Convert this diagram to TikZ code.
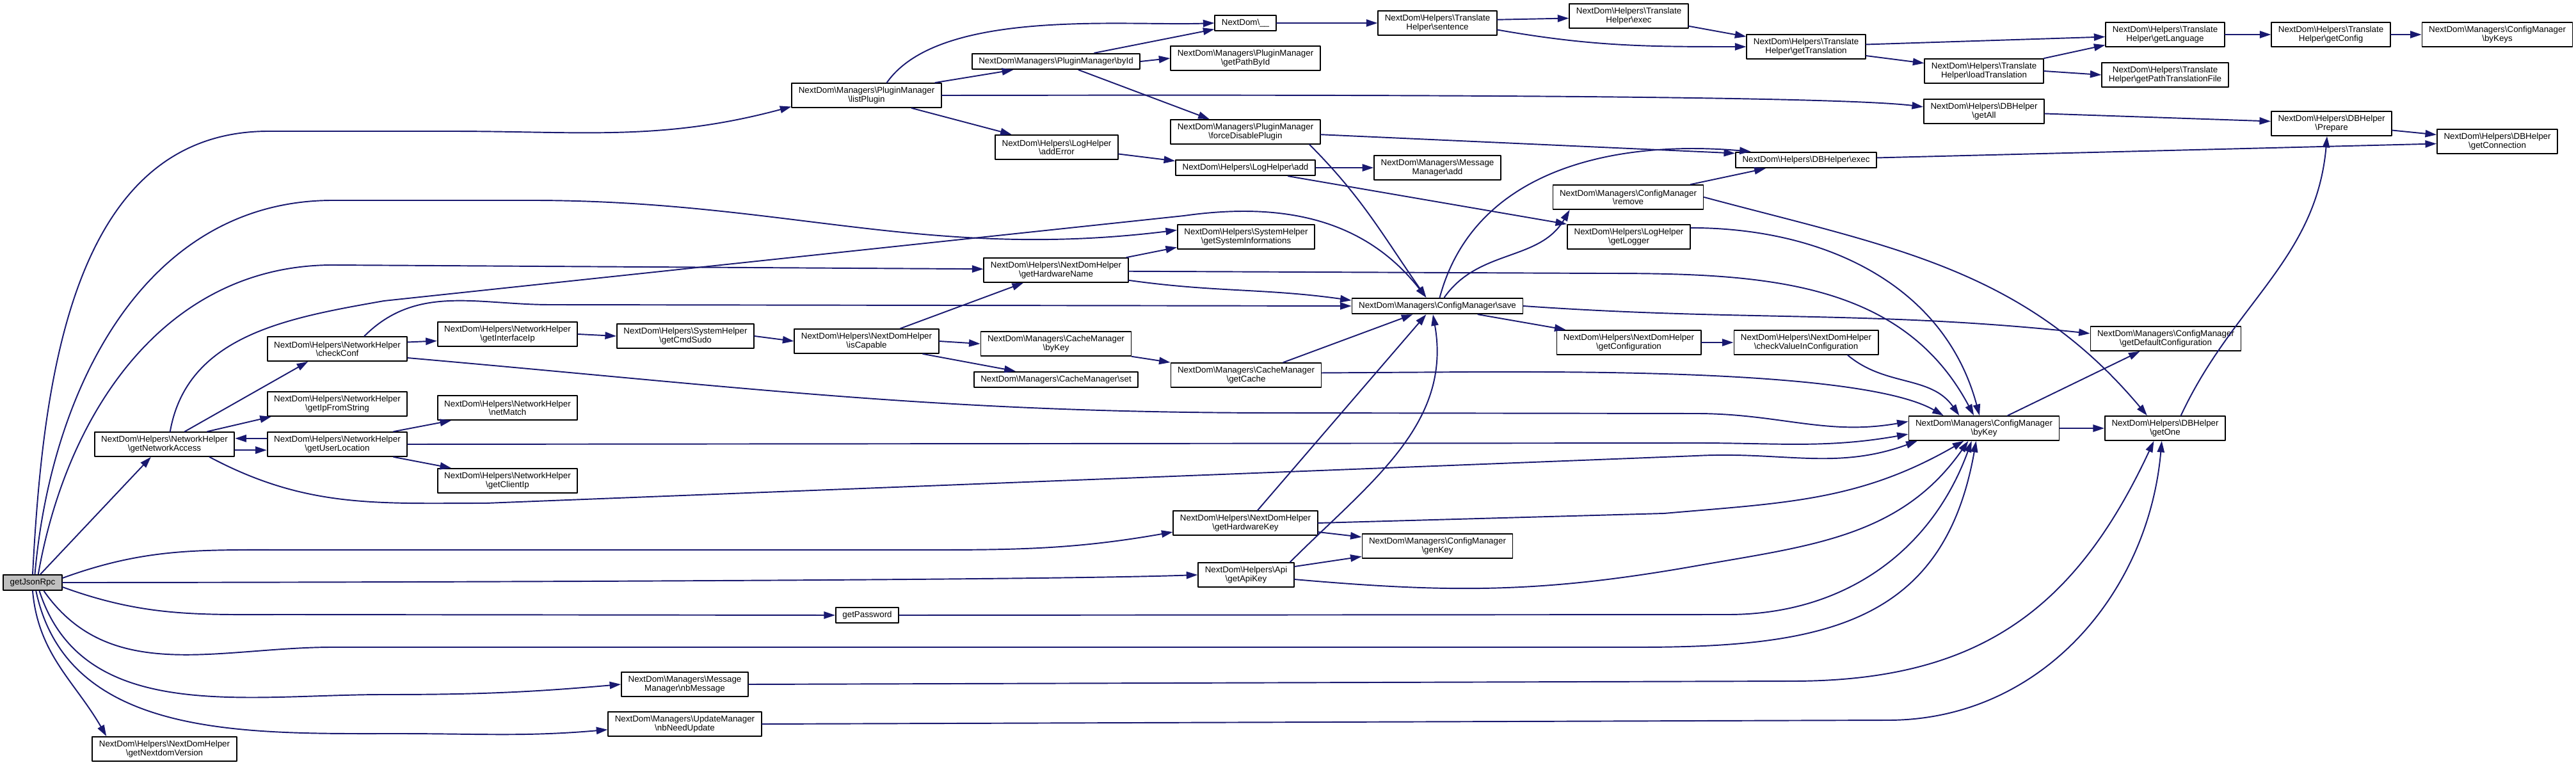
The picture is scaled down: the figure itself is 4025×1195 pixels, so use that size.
\documentclass[tikz,border=0pt]{standalone}
\usepackage{fontspec}
\setmainfont{Liberation Sans}
\usepackage{tikz}
\usetikzlibrary{arrows.meta}
\definecolor{cgedge}{HTML}{191970}
\definecolor{cgroot}{HTML}{BFBFBF}
\newcommand{\bsl}{\textbackslash}

\begin{document}
\begin{tikzpicture}[x=0.01cm,y=-0.01cm,line cap=round,line join=round,
  fn/.style={draw=black,fill=white,line width=0.5pt,inner xsep=3pt,inner ysep=1.7pt,
    minimum height=7pt,align=center,font=\fontsize{3.8pt}{3.75pt}\selectfont},
  fn2/.style={fn,minimum height=10.8pt},
  cg/.style={draw=cgedge,line width=0.55pt,-{Triangle[length=5pt,width=3.2pt]}}]
\path[use as bounding box] (0,0) rectangle (4025,1195);
\fill[white] (0,0) rectangle (4025,1195);

% call graph nodes
\node[fn,fill=cgroot] (root) at (51,910) {getJsonRpc};
\node[fn2] (lp) at (1354,149) {NextDom\bsl Managers\bsl PluginManager\\\bsl listPlugin};
\node[fn] (bid) at (1650,96) {NextDom\bsl Managers\bsl PluginManager\bsl byId};
\node[fn2] (gpb) at (1946,91) {NextDom\bsl Managers\bsl PluginManager\\\bsl getPathById};
\node[fn] (ndu) at (1946,36) {NextDom\bsl\_\_};
\node[fn2] (snt) at (2246,36) {NextDom\bsl Helpers\bsl Translate\\Helper\bsl sentence};
\node[fn2] (tex) at (2545,25) {NextDom\bsl Helpers\bsl Translate\\Helper\bsl exec};
\node[fn2] (gtr) at (2822,73) {NextDom\bsl Helpers\bsl Translate\\Helper\bsl getTranslation};
\node[fn2] (lt) at (3100,111) {NextDom\bsl Helpers\bsl Translate\\Helper\bsl loadTranslation};
\node[fn2] (gl) at (3383,54) {NextDom\bsl Helpers\bsl Translate\\Helper\bsl getLanguage};
\node[fn2] (gptf) at (3383,117) {NextDom\bsl Helpers\bsl Translate\\Helper\bsl getPathTranslationFile};
\node[fn2] (gcf) at (3642,54) {NextDom\bsl Helpers\bsl Translate\\Helper\bsl getConfig};
\node[fn2] (bks) at (3902,54) {NextDom\bsl Managers\bsl ConfigManager\\\bsl byKeys};
\node[fn2] (ga) at (3100,174) {NextDom\bsl Helpers\bsl DBHelper\\\bsl getAll};
\node[fn2] (pr) at (3643,193) {NextDom\bsl Helpers\bsl DBHelper\\\bsl Prepare};
\node[fn2] (gcn) at (3902,221) {NextDom\bsl Helpers\bsl DBHelper\\\bsl getConnection};
\node[fn] (dbe) at (2822,250) {NextDom\bsl Helpers\bsl DBHelper\bsl exec};
\node[fn2] (fdp) at (1946,206) {NextDom\bsl Managers\bsl PluginManager\\\bsl forceDisablePlugin};
\node[fn2] (ae) at (1651,230) {NextDom\bsl Helpers\bsl LogHelper\\\bsl addError};
\node[fn] (lha) at (1946,262) {NextDom\bsl Helpers\bsl LogHelper\bsl add};
\node[fn2] (mma) at (2246,262) {NextDom\bsl Managers\bsl Message\\Manager\bsl add};
\node[fn2] (rm) at (2544,308) {NextDom\bsl Managers\bsl ConfigManager\\\bsl remove};
\node[fn2] (glg) at (2545,370) {NextDom\bsl Helpers\bsl LogHelper\\\bsl getLogger};
\node[fn2] (gsi) at (1947,370) {NextDom\bsl Helpers\bsl SystemHelper\\\bsl getSystemInformations};
\node[fn2] (ghn) at (1650,422) {NextDom\bsl Helpers\bsl NextDomHelper\\\bsl getHardwareName};
\node[fn] (sv) at (2246,478) {NextDom\bsl Managers\bsl ConfigManager\bsl save};
\node[fn2] (isc) at (1354,533) {NextDom\bsl Helpers\bsl NextDomHelper\\\bsl isCapable};
\node[fn2] (cbk) at (1650,537) {NextDom\bsl Managers\bsl CacheManager\\\bsl byKey};
\node[fn] (cst) at (1650,593) {NextDom\bsl Managers\bsl CacheManager\bsl set};
\node[fn2] (gch) at (1947,586) {NextDom\bsl Managers\bsl CacheManager\\\bsl getCache};
\node[fn2] (gcfg) at (2545,535) {NextDom\bsl Helpers\bsl NextDomHelper\\\bsl getConfiguration};
\node[fn2] (cvc) at (2822,535) {NextDom\bsl Helpers\bsl NextDomHelper\\\bsl checkValueInConfiguration};
\node[fn2] (gdc) at (3384,529) {NextDom\bsl Managers\bsl ConfigManager\\\bsl getDefaultConfiguration};
\node[fn2] (bk) at (3100,669) {NextDom\bsl Managers\bsl ConfigManager\\\bsl byKey};
\node[fn2] (go) at (3383,669) {NextDom\bsl Helpers\bsl DBHelper\\\bsl getOne};
\node[fn2] (cc) at (527,545) {NextDom\bsl Helpers\bsl NetworkHelper\\\bsl checkConf};
\node[fn2] (gii) at (793,522) {NextDom\bsl Helpers\bsl NetworkHelper\\\bsl getInterfaceIp};
\node[fn2] (gcs) at (1071,525) {NextDom\bsl Helpers\bsl SystemHelper\\\bsl getCmdSudo};
\node[fn2] (gifs) at (527,631) {NextDom\bsl Helpers\bsl NetworkHelper\\\bsl getIpFromString};
\node[fn2] (gna) at (257,694) {NextDom\bsl Helpers\bsl NetworkHelper\\\bsl getNetworkAccess};
\node[fn2] (gul) at (527,694) {NextDom\bsl Helpers\bsl NetworkHelper\\\bsl getUserLocation};
\node[fn2] (nm) at (793,637) {NextDom\bsl Helpers\bsl NetworkHelper\\\bsl netMatch};
\node[fn2] (gci) at (793,751) {NextDom\bsl Helpers\bsl NetworkHelper\\\bsl getClientIp};
\node[fn2] (nbm) at (1070,1069) {NextDom\bsl Managers\bsl Message\\Manager\bsl nbMessage};
\node[fn2] (nbu) at (1070,1131) {NextDom\bsl Managers\bsl UpdateManager\\\bsl nbNeedUpdate};
\node[fn2] (gnv) at (257,1170) {NextDom\bsl Helpers\bsl NextDomHelper\\\bsl getNextdomVersion};
\node[fn2] (ghk) at (1946,817) {NextDom\bsl Helpers\bsl NextDomHelper\\\bsl getHardwareKey};
\node[fn2] (gk) at (2246,853) {NextDom\bsl Managers\bsl ConfigManager\\\bsl genKey};
\node[fn2] (gak) at (1947,898) {NextDom\bsl Helpers\bsl Api\\\bsl getApiKey};
\node[fn] (gpw) at (1355,961) {getPassword};

% calls from getJsonRpc
\draw[cg] (root.north) to[out=87,in=180] (420,205) -- (700,205) to[out=0,in=195] ([yshift=-5pt]lp.west);
\draw[cg] ([xshift=1pt]root.north) to[out=85,in=180] (520,313) -- (830,313) to[out=0,in=187] ([yshift=3pt]gsi.west);
\draw[cg] ([xshift=2.5pt]root.north) to[out=80,in=180] (520,414) -- ([yshift=0.5pt]ghn.west);
\draw[cg] ([xshift=3.5pt]root.north) -- ([xshift=-6pt]gna.south);
\draw[cg] ([yshift=2pt]root.east) to[out=20,in=180] (450,859) -- (1400,859) to[out=0,in=190] ([yshift=-4pt]ghk.west);
\draw[cg] (root.east) to[out=0,in=182,looseness=0.4] (gak.west);
\draw[cg] ([yshift=-2pt]root.east) to[out=-20,in=180] (450,960) -- (gpw.west);
\draw[cg] ([xshift=5pt]root.south) to[out=-55,in=180] (520,1011) -- (2560,1011) to[out=0,in=-100,looseness=1.2] ([xshift=-3.5pt]bk.south);
\draw[cg] ([xshift=3pt]root.south) to[out=-72,in=180] (600,1085) to[out=0,in=185] (nbm.west);
\draw[cg] ([xshift=1.5pt]root.south) to[out=-78,in=180] (620,1146) to[out=0,in=185] ([yshift=-2.5pt]nbu.west);
\draw[cg] (root.south) to[out=-85,in=120] ([xshift=6.5pt]gnv.north west);

% network helper
\draw[cg] ([xshift=9pt]gna.north) -- ([xshift=-13pt]cc.south);
\draw[cg] ([xshift=2.5pt]gna.north) to[out=80,in=190] (600,470) -- (1850,337) to[out=8,in=128] ([xshift=-5pt]sv.north);
\draw[cg] ([xshift=19pt]gna.north) -- ([xshift=2pt]gifs.south west);
\draw[cg] ([yshift=-2.6pt]gna.east) -- ([yshift=-2.6pt]gul.west);
\draw[cg] ([yshift=2.6pt]gul.west) -- ([yshift=2.6pt]gna.east);
\draw[cg] ([xshift=20pt]gna.south) to[out=-28,in=180] (760,786) -- (2650,712) to[out=3,in=200] ([xshift=4pt]bk.south west);
\draw[cg] ([xshift=25pt]gul.north) -- ([xshift=-25pt]nm.south);
\draw[cg] ([xshift=25pt]gul.south) -- ([xshift=-25pt]gci.north);
\draw[cg] (gul.east) -- (2650,692) to[out=0,in=190] ([yshift=-2.6pt]bk.west);
\draw[cg] ([yshift=3pt]cc.east) -- ([yshift=-3pt]gii.west);
\draw[cg] ([xshift=12pt]cc.north) to[out=45,in=180] (860,476) -- (sv.west);
\draw[cg] ([yshift=-4pt]cc.east) to[out=-5,in=180] (2000,645) -- (2650,646) to[out=0,in=190] ([yshift=3pt]bk.west);
\draw[cg] (gii.east) -- (gcs.west);
\draw[cg] (gcs.east) -- (isc.west);

% hardware and cache
\draw[cg] ([xshift=15pt]isc.north) -- ([xshift=-14.5pt]ghn.south);
\draw[cg] (isc.east) -- (cbk.west);
\draw[cg] ([xshift=25pt]isc.south) -- ([xshift=-18pt]cst.north);
\draw[cg] (cbk.south east) -- (gch.north west);
\draw[cg] ([xshift=-1pt]ghn.north east) -- ([yshift=1pt]gsi.south west);
\draw[cg] ([yshift=-4.5pt]ghn.east) to[out=-8,in=172] ([yshift=2.5pt]sv.west);
\draw[cg] ([yshift=-0.5pt]ghn.east) -- (2500,427) to[out=0,in=118] ([xshift=-4.5pt]bk.north);
\draw[cg] ([xshift=16.5pt]gch.north) -- ([xshift=-11pt]sv.south);
\draw[cg] ([yshift=1pt]gch.east) -- (2300,581) to[out=0,in=150,looseness=0.5] ([xshift=-18pt]bk.north);

% plugin manager
\draw[cg] ([xshift=9pt]lp.north) to[out=55,in=182,looseness=0.7] (ndu.west);
\draw[cg] ([xshift=-3pt]lp.north east) -- ([xshift=-19pt]bid.south);
\draw[cg] ([xshift=20pt]lp.south) -- ([xshift=-20pt]ae.north);
\draw[cg] (lp.east) to[out=0,in=173,looseness=0.3] ([yshift=2pt]ga.west);
\draw[cg] ([xshift=17pt]bid.north) -- ([yshift=1pt]ndu.south west);
\draw[cg] (bid.east) -- (gpb.west);
\draw[cg] ([xshift=10pt]bid.south) -- ([xshift=-16pt]fdp.north);
\draw[cg] ([xshift=-5pt]fdp.south east) to[out=-45,in=125] ([xshift=-5pt]sv.north);
\draw[cg] ([yshift=-1.2pt]fdp.east) -- ([yshift=3pt]dbe.west);

% translate helper
\draw[cg] (ndu.east) -- (snt.west);
\draw[cg] ([yshift=1.5pt]snt.east) -- ([yshift=-1pt]tex.west);
\draw[cg] ([yshift=-3pt]snt.east) to[out=-10,in=180] (gtr.west);
\draw[cg] ([yshift=-4.5pt]tex.east) -- ([yshift=4.5pt]gtr.west);
\draw[cg] ([yshift=1pt]gtr.east) -- ([yshift=-1pt]gl.west);
\draw[cg] ([yshift=-4pt]gtr.east) -- ([yshift=3.5pt]lt.west);
\draw[cg] (lt.north east) -- ([yshift=1pt]gl.south west);
\draw[cg] (lt.east) -- (gptf.west);
\draw[cg] (gl.east) -- (gcf.west);
\draw[cg] (gcf.east) -- (bks.west);

% db helper
\draw[cg] ([yshift=-1pt]ga.east) -- ([yshift=1pt]pr.west);
\draw[cg] ([yshift=-3pt]pr.east) -- ([yshift=3pt]gcn.west);
\draw[cg] ([yshift=1pt]dbe.east) -- ([yshift=-1pt]gcn.west);
\draw[cg] ([xshift=7pt]go.north) to[out=65,in=-95] ([xshift=-2pt]pr.south);

% log helper
\draw[cg] ([yshift=-3pt]ae.east) -- ([yshift=3pt]lha.west);
\draw[cg] (lha.east) -- (mma.west);
\draw[cg] ([xshift=19pt]lha.south) -- (glg.north west);
\draw[cg] ([yshift=4pt]glg.east) to[out=0,in=105] ([xshift=-2pt]bk.north);

% config manager
\draw[cg] ([xshift=1pt]sv.north) to[out=75,in=175] ([xshift=7pt]dbe.north west);
\draw[cg] ([xshift=3pt]sv.north) to[out=55,in=-120] ([xshift=-26pt]rm.south);
\draw[cg] ([xshift=18pt]sv.south) -- ([xshift=-28pt]gcfg.north);
\draw[cg] (sv.east) to[out=-4,in=174] ([yshift=2.3pt]gdc.west);
\draw[cg] ([xshift=-6pt]rm.north east) -- ([xshift=-18pt]dbe.south);
\draw[cg] (rm.east) to[out=-15,in=130] ([xshift=-8pt]go.north);
\draw[cg] (gcfg.east) -- (cvc.west);
\draw[cg] ([xshift=18.5pt]cvc.south) to[out=-40,in=125] ([xshift=-11pt]bk.north);
\draw[cg] ([xshift=10.5pt]bk.north) -- ([xshift=-11.5pt]gdc.south);
\draw[cg] (bk.east) -- (go.west);

% keys, password, messages
\draw[cg] ([xshift=5.4pt]ghk.north) -- ([xshift=-5pt]sv.south);
\draw[cg] ([yshift=-4pt]ghk.east) -- ([yshift=4pt]gk.west);
\draw[cg] (ghk.east) -- (2600,802) to[out=5,in=-150] ([xshift=-9pt]bk.south);
\draw[cg] ([xshift=-2pt]gak.north east) to[out=45,in=-80] ([xshift=-2pt]sv.south);
\draw[cg] ([yshift=3.7pt]gak.east) -- ([yshift=1pt]gk.south west);
\draw[cg] ([yshift=-2pt]gak.east) to[out=-5,in=190] (2650,884) to[out=10,in=-125] ([xshift=-7pt]bk.south);
\draw[cg] (gpw.east) -- (2700,960) to[out=0,in=-110] ([xshift=-5.5pt]bk.south);
\draw[cg] (nbm.east) -- (2800,1064) to[out=0,in=-115,looseness=1.1] ([xshift=-5pt]go.south);
\draw[cg] (nbu.east) -- (2950,1125) to[out=0,in=-95] ([xshift=-1.5pt]go.south);
\end{tikzpicture}
\end{document}
